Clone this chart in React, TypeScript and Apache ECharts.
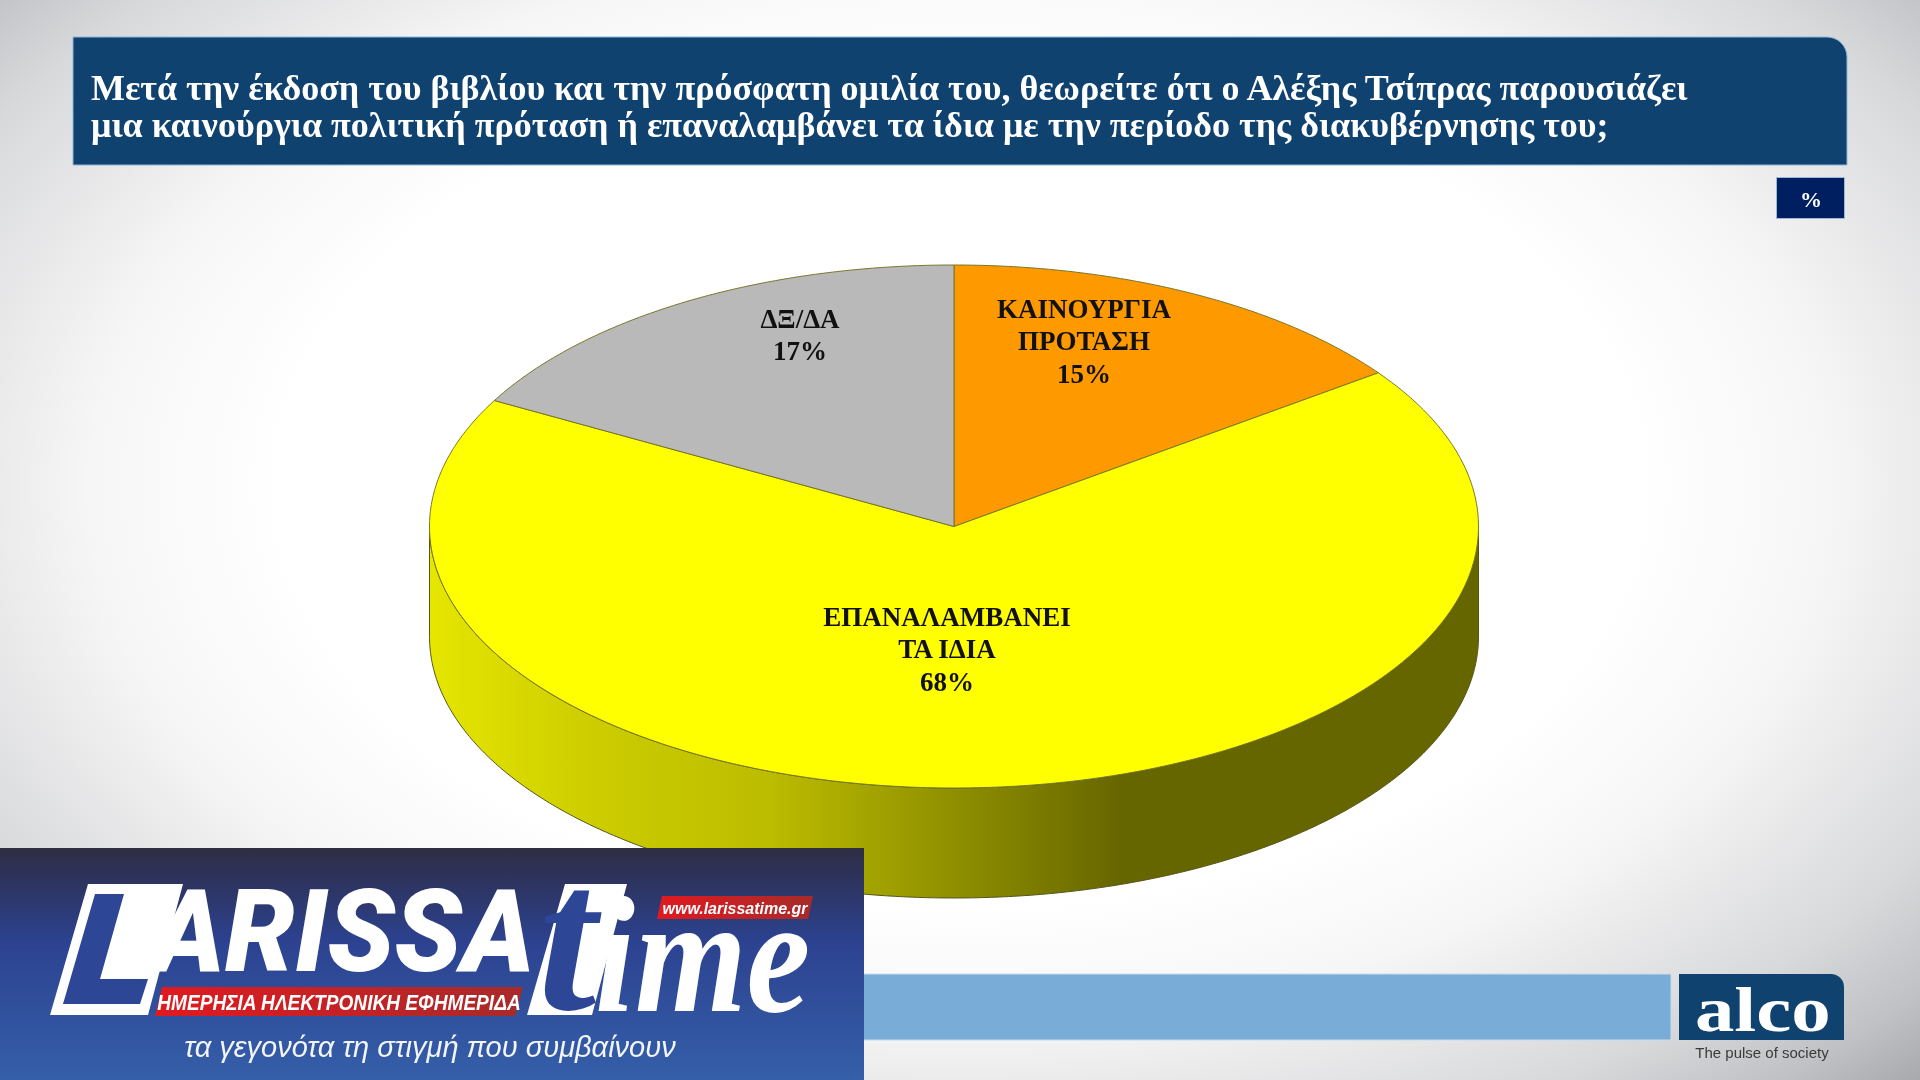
import React, { useEffect, useRef } from "react";
import * as echarts from "echarts";

// ---------- data ----------
const categories = ["ΚΑΙΝΟΥΡΓΙΑ\nΠΡΟΤΑΣΗ", "ΕΠΑΝΑΛΑΜΒΑΝΕΙ\nΤΑ ΙΔΙΑ", "ΔΞ/ΔΑ"];
const values = [15, 68, 17];
const titleLines = [
  "Μετά την έκδοση του βιβλίου και την πρόσφατη ομιλία του, θεωρείτε ότι ο Αλέξης Τσίπρας παρουσιάζει",
  "μια καινούργια πολιτική πρόταση ή επαναλαμβάνει τα ίδια με την περίοδο της διακυβέρνησης του;",
];

// ---------- style ----------
const sliceColors = ["#ff9900", "#ffff00", "#b9b9b9"];
const labelCenters = [
  [1084, 341],
  [947, 649],
  [800, 335],
];
const CX = 954;
const CY = 526.5;
const RX = 524.5;
const RY = 261.5;
const DEPTH = 110;
const SERIF = '"Liberation Serif"';
const SANS = '"Liberation Sans"';

const shade = (hex: string, f: number) => {
  const n = parseInt(hex.slice(1), 16);
  const c = [(n >> 16) & 255, (n >> 8) & 255, n & 255].map((v) => Math.round(v * f));
  return `rgb(${c[0]},${c[1]},${c[2]})`;
};

// angle in degrees, clockwise from 12 o'clock
const rim = (deg: number, dy = 0): number[] => {
  const a = (deg * Math.PI) / 180;
  return [CX + RX * Math.sin(a), CY - RY * Math.cos(a) + dy];
};
const arc = (from: number, to: number, dy = 0): number[][] => {
  const pts: number[][] = [];
  const steps = Math.max(2, Math.ceil((to - from) / 0.5));
  for (let i = 0; i <= steps; i++) pts.push(rim(from + ((to - from) * i) / steps, dy));
  return pts;
};

const renderSlice = (params: any, api: any) => {
  const i = params.dataIndex;
  const total = values.reduce((s, v) => s + v, 0);
  const before = values.slice(0, i).reduce((s, v) => s + v, 0);
  const start = (before / total) * 360;
  const end = start + (api.value(0) / total) * 360;
  const color = sliceColors[i];
  const children: any[] = [];

  const wFrom = Math.max(start, 90);
  const wTo = Math.min(end, 270);
  if (wTo > wFrom) {
    children.push({
      type: "polygon",
      shape: { points: [...arc(wFrom, wTo), ...arc(wFrom, wTo, DEPTH).reverse()] },
      style: {
        fill: new echarts.graphic.LinearGradient(0, 0, 1, 0, [
          { offset: 0, color: shade(color, 0.9) },
          { offset: 0.16, color: shade(color, 0.8) },
          { offset: 0.32, color: shade(color, 0.74) },
          { offset: 0.5, color: shade(color, 0.56) },
          { offset: 0.66, color: shade(color, 0.4) },
          { offset: 1, color: shade(color, 0.4) },
        ]),
        stroke: "#55551a",
        lineWidth: 1,
      },
    });
  }
  children.push({
    type: "polygon",
    shape: { points: [[CX, CY], ...arc(start, end)] },
    style: { fill: color, stroke: "#77772a", lineWidth: 1 },
  });
  children.push({
    type: "text",
    style: {
      text: `${categories[i]}\n${api.value(0)}%`,
      x: labelCenters[i][0],
      y: labelCenters[i][1],
      align: "center",
      verticalAlign: "middle",
      fill: "#111111",
      font: `bold 27px ${SERIF}`,
      lineHeight: 32.5,
    },
  });
  return { type: "group", children };
};

const txt = (
  text: string,
  x: number,
  y: number,
  font: string,
  fill: string,
  z: number,
  extra: any = {},
  styleExtra: any = {}
) => ({
  type: "text",
  x,
  y,
  z,
  silent: true,
  ...extra,
  style: { text, x: 0, y: 0, font, fill, verticalAlign: "middle", align: "left", ...styleExtra },
});

const poly = (points: number[][], fill: any, z: number) => ({
  type: "polygon",
  z,
  silent: true,
  shape: { points },
  style: { fill },
});

const redBar = () =>
  new echarts.graphic.LinearGradient(0, 0, 1, 0, [
    { offset: 0, color: "#e01a20" },
    { offset: 1, color: "#a82a2a" },
  ]);

const PANEL_BLUE = "#2d4696";

const buildGraphic = () => [
  // title banner
  {
    type: "rect",
    z: 1,
    silent: true,
    shape: { x: 73, y: 37, width: 1774, height: 128, r: [0, 20, 0, 0] },
    style: { fill: "#0f426f", stroke: "#8fb6da", lineWidth: 1 },
  },
  txt(titleLines[0], 91, 88, `bold 36px ${SERIF}`, "#ffffff", 2),
  txt(titleLines[1], 91, 125, `bold 36px ${SERIF}`, "#ffffff", 2),
  // percent box
  {
    type: "rect",
    z: 1,
    silent: true,
    shape: { x: 1776.5, y: 177.5, width: 68, height: 41 },
    style: { fill: "#001f60", stroke: "#9db8d8", lineWidth: 1 },
  },
  txt("%", 1811, 199, `bold 22px ${SERIF}`, "#ffffff", 2, {}, { align: "center" }),
  // footer bar and alco
  {
    type: "rect",
    z: 1,
    silent: true,
    shape: { x: 73, y: 974, width: 1598, height: 66 },
    style: { fill: "#79acd6", stroke: "#c9dcec", lineWidth: 1 },
  },
  {
    type: "rect",
    z: 1,
    silent: true,
    shape: { x: 1679, y: 974, width: 165, height: 66, r: [0, 13, 0, 0] },
    style: { fill: "#0f426f" },
  },
  txt("alco", 1695, 1009, `bold 63px ${SERIF}`, "#ffffff", 2, { scaleX: 1.25 }),
  txt("The pulse of society", 1762, 1052, `15px ${SANS}`, "#3a3a3a", 2, {}, { align: "center" }),
  // newspaper panel
  {
    type: "rect",
    z: 10,
    silent: true,
    shape: { x: 0, y: 848, width: 864, height: 232 },
    style: {
      fill: new echarts.graphic.LinearGradient(0, 0, 0, 1, [
        { offset: 0, color: "#2f2f42" },
        { offset: 0.1, color: "#2d3156" },
        { offset: 0.4, color: "#2c4290" },
        { offset: 1, color: "#355fa9" },
      ]),
    },
  },
  poly([[88, 884], [183, 884], [148, 1015], [50, 1015]], "#ffffff", 11),
  poly([[95, 894], [124, 894], [100, 979], [148, 979], [140, 1004], [63, 1004]], PANEL_BLUE, 12),
  txt("ARISSA", 152, 932, `italic 900 114px Roboto`, "#ffffff", 12, { scaleX: 0.97 }),
  poly([[565, 884], [627, 884], [592, 1015], [527, 1015]], "#ffffff", 11),
  txt("t", 538, 938, `italic bold 210px ${SERIF}`, PANEL_BLUE, 12),
  txt("ime", 595, 955, `italic bold 165px ${SERIF}`, "#ffffff", 13, { scaleX: 0.87 }),
  poly([[162, 987], [523, 987], [515, 1016], [155, 1016]], redBar(), 14),
  txt("ΗΜΕΡΗΣΙΑ ΗΛΕΚΤΡΟΝΙΚΗ ΕΦΗΜΕΡΙΔΑ", 339, 1002, `italic bold 23px ${SANS}`, "#ffffff", 15, { scaleX: 0.83 }, { align: "center" }),
  poly([[662, 896], [813, 896], [808, 919], [657, 919]], redBar(), 14),
  txt("www.larissatime.gr", 735, 908, `italic bold 17px ${SANS}`, "#ffffff", 15, { scaleX: 0.94 }, { align: "center" }),
  txt("τα γεγονότα τη στιγμή που συμβαίνουν", 430, 1047, `italic 29px ${SANS}`, "#f2f5fa", 12, {}, { align: "center" }),
];

export default function App() {
  const ref = useRef<HTMLDivElement>(null);
  useEffect(() => {
    if (!ref.current) return;
    const chart = echarts.init(ref.current, undefined, { renderer: "svg" });
    chart.setOption({
      animation: false,
      graphic: { elements: buildGraphic() },
      series: [
        {
          type: "custom",
          coordinateSystem: "none",
          clip: false,
          silent: true,
          z: 5,
          renderItem: renderSlice,
          data: values.map((v, i) => ({ name: categories[i], value: [v] })),
        },
      ],
    });
    return () => chart.dispose();
  }, []);
  return (
    <div
      ref={ref}
      style={{
        position: "fixed",
        left: 0,
        top: 0,
        width: 1920,
        height: 1080,
        background:
          "radial-gradient(ellipse farthest-corner at 50% 45%, #ffffff 0%, #ffffff 50%, #f6f6f6 64%, #ebebec 71%, #d8d9db 83%, #c0c1c4 93%, #a8a9ac 100%)",
      }}
    />
  );
}
